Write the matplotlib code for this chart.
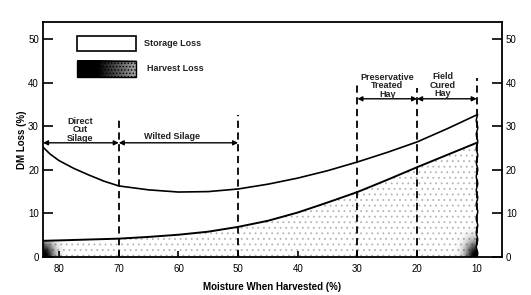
import numpy as np
import matplotlib.pyplot as plt
from matplotlib.patches import Rectangle

plt.rcParams['font.family'] = ['Liberation Sans', 'DejaVu Sans']

# moisture content (%) at harvest and the two loss curves (% DM)
moisture = [82.7, 81.5, 80, 77.5, 75, 72.5, 70, 65, 60, 55, 50, 45, 40, 35, 30, 25, 20, 15, 10]
storage_loss = [25.2, 23.6, 22.1, 20.3, 18.8, 17.4, 16.3, 15.4, 14.9, 15.0, 15.6, 16.7, 18.1, 19.8, 21.8, 24.0, 26.4, 29.4, 32.6]
harvest_loss = [3.7, 3.75, 3.8, 3.9, 4.0, 4.1, 4.2, 4.6, 5.1, 5.8, 6.9, 8.3, 10.2, 12.5, 14.9, 17.7, 20.6, 23.4, 26.2]

# harvest systems: (label, from, to, arrow height, text x, text y)
systems = [
    ("Direct\nCut\nSilage", 82.7, 70, 26.2, 76.5, 29.2),
    ("Wilted Silage", 70, 50, 26.2, 61, 27.6),
    ("Preservative\nTreated\nHay", 30, 20, 36.3, 25, 39.3),
    ("Field\nCured\nHay", 20, 10, 36.3, 15.7, 39.4),
]
divider_x = [70, 50, 30, 20, 10]
divider_top = [31.8, 32.5, 39.4, 38.7, 41.0]

xticks = [80, 70, 60, 50, 40, 30, 20, 10]
yticks = [0, 10, 20, 30, 40, 50]

plt.rcParams['hatch.linewidth'] = 0.6

fig = plt.figure(figsize=(5.31, 2.95), dpi=100)
ax = fig.add_axes([0.081, 0.129, 0.864, 0.796])

# harvest loss: stippled area under the lower curve
fill = ax.fill_between(moisture, 0, harvest_loss, facecolor='white',
                       edgecolor='#b4b4b4', hatch='...', linewidth=0, zorder=1)
clip = fill.get_paths()[0]

# darker patches at the two ends of the harvest area
gx = np.linspace(82.7, 10, 300)
gy = np.linspace(0, 27, 120)
GX, GY = np.meshgrid(gx, gy)
left = np.exp(-((GX - 82.7) / 1.8) ** 2 - (GY / 3.5) ** 2)
right = np.exp(-((GX - 10) / 1.8) ** 2 - (GY / 3.5) ** 2)
dark = np.clip(np.maximum(left, right) * 1.1, 0, 1)
rgba = np.zeros(GX.shape + (4,))
rgba[..., 3] = dark
im = ax.imshow(rgba, extent=(82.7, 10, 0, 27), origin='lower',
               aspect='auto', zorder=2, interpolation='bilinear')
im.set_clip_path(clip, transform=ax.transData)

ax.plot(moisture, storage_loss, color='black', lw=1.2, zorder=4)
ax.plot(moisture, harvest_loss, color='black', lw=1.4, zorder=4)

# wavy right edge at 10 %
wav, = ax.plot([10, 10], [0, storage_loss[-1]], color='black', lw=1.1, zorder=4)
wav.set_sketch_params(scale=0.7, length=14, randomness=1)

# divider lines
for x, top in zip(divider_x, divider_top):
    ax.plot([x, x], [0, top], color='black', lw=1.3, ls=(0, (4, 2.5)), zorder=3)

# arrows and labels for harvest systems
for label, x0, x1, yy, tx, ty in systems:
    ax.annotate('', xy=(x1, yy), xytext=(x0, yy),
                arrowprops=dict(arrowstyle='<|-|>', color='black', lw=1.0,
                                shrinkA=0, shrinkB=0, mutation_scale=7))
    ax.text(tx, ty, label, ha='center', va='center', fontsize=6.5,
            linespacing=0.95, fontweight='bold', color='#222222')

# legend boxes
ax.add_patch(Rectangle((77, 47.2), -9.9, 3.5, facecolor='white',
                       edgecolor='black', lw=1.2, zorder=5))
ax.add_patch(Rectangle((77, 41.3), -9.9, 3.7, facecolor='#e8e8e8',
                       edgecolor='black', lw=1.0, hatch='.....', zorder=5))
lg = np.linspace(1, 0.2, 100)[None, :]
lrgba = np.zeros((1, 100, 4))
lrgba[..., 3] = np.clip(lg * 1.4, 0, 1)
ax.imshow(lrgba, extent=(77, 67.1, 41.3, 45.0), aspect='auto', zorder=6,
          interpolation='bilinear')
ax.text(65.8, 49.0, 'Storage Loss', fontsize=6.5, va='center', fontweight='bold', color='#222222')
ax.text(65.3, 43.2, 'Harvest Loss', fontsize=6.5, va='center', fontweight='bold', color='#222222')

ax.set_xlim(82.7, 5.8)
ax.set_ylim(0, 53.9)
ax.set_xticks(xticks)
ax.set_yticks(yticks)
ax.tick_params(axis='y', direction='in', length=7, width=1.2, labelsize=7,
               right=True, labelright=True, pad=3)
ax.tick_params(axis='x', direction='in', length=4, width=1.2, labelsize=7, pad=5)
for s in ax.spines.values():
    s.set_linewidth(1.3)

ax.set_xlabel('Moisture When Harvested (%)', fontsize=7, fontweight='bold', labelpad=6)
ax.set_ylabel('DM Loss (%)', fontsize=7, fontweight='bold', labelpad=1)

fig.savefig('out.png', dpi=100)
